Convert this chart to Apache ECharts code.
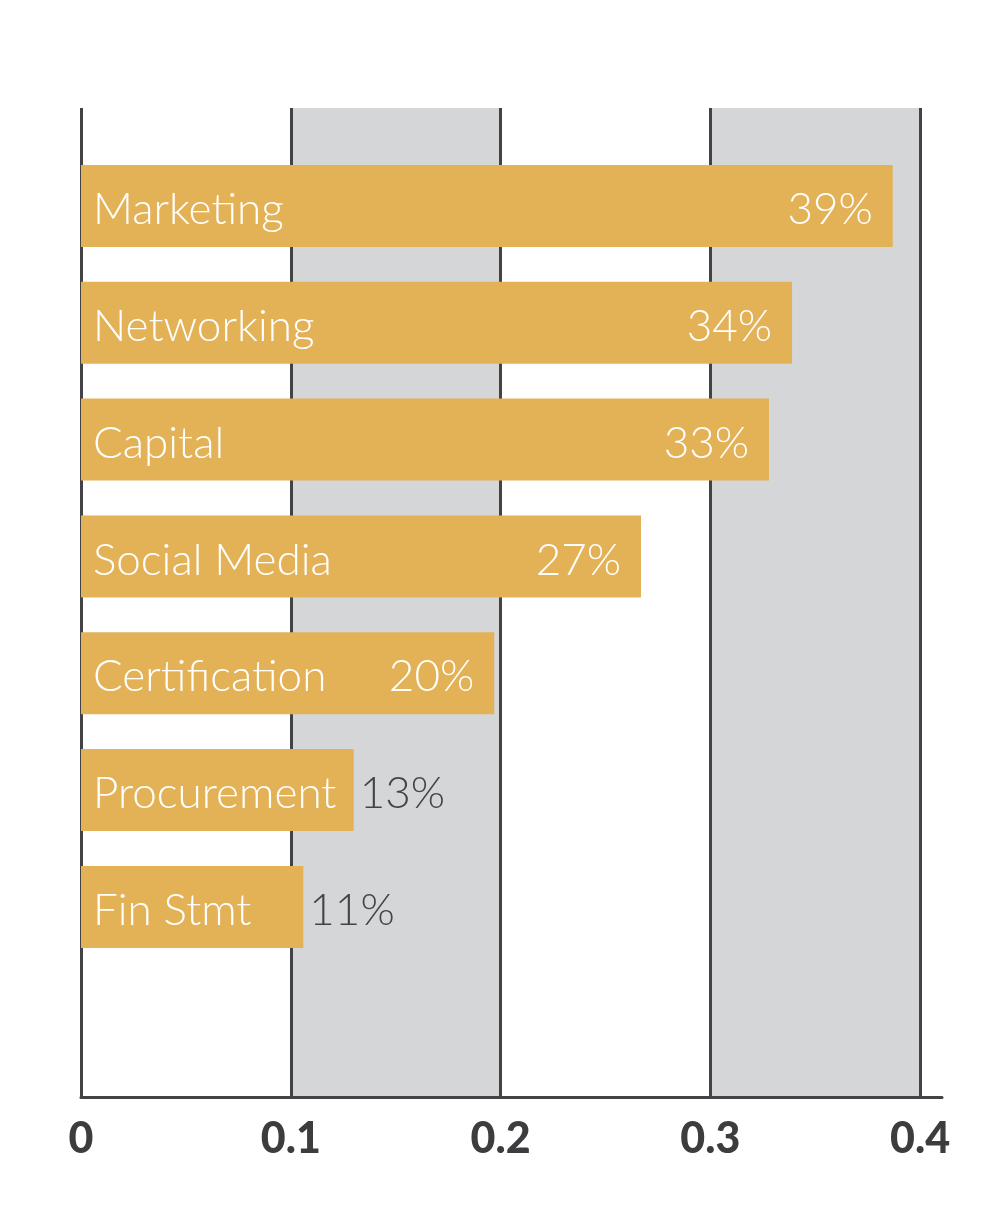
<!DOCTYPE html>
<html>
<head>
<meta charset="utf-8">
<script src="https://cdn.jsdelivr.net/npm/echarts@6/dist/echarts.min.js"></script>
<style>
html, body { margin: 0; padding: 0; background: #fff; }
#main { width: 1000px; height: 1221px; }
</style>
</head>
<body>
<div id="main"></div>
<script>
// categories, top to bottom
var categories = ['Marketing', 'Networking', 'Capital', 'Social Media', 'Certification', 'Procurement', 'Fin Stmt'];
// share of respondents
var shares = [0.387, 0.339, 0.328, 0.267, 0.197, 0.130, 0.106];
var tickLabels = ['0', '0.1', '0.2', '0.3', '0.4'];

var barColor = '#e3b257';
var lineColor = '#434345';
var bandColor = '#d4d6d8';
var labelFont = 'Lato';

var barData = shares.map(function (v) {
	var outside = v < 0.15; // short bars get their value outside
	return {
		value : v,
		label : {
			position : outside ? 'right' : 'insideRight',
			distance : outside ? 6 : 20,
			color : outside ? '#444446' : '#ffffff'
		}
	};
});

option = {
	animation : false,
	backgroundColor : '#ffffff',
	grid : [ {
		// background: bands, vertical lines, bottom axis
		left : 81,
		right : 58,
		top : 108,
		bottom : 124
	}, {
		// bars
		left : 81,
		right : 80,
		top : 147.5,
		height : 817.8
	} ],
	xAxis : [ {
		gridIndex : 0,
		type : 'value',
		min : 0,
		max : 0.4104,
		interval : 0.1,
		axisLine : {
			show : true,
			onZero : false,
			lineStyle : { color : lineColor, width : 3 }
		},
		axisTick : { show : false },
		axisLabel : {
			showMaxLabel : false,
			margin : 21,
			color : '#3d3d3f',
			fontFamily : labelFont,
			fontWeight : 900,
			fontSize : 43,
			formatter : function (v) {
				return tickLabels[Math.round(v * 10)];
			}
		},
		splitLine : {
			show : true,
			showMaxLine : false,
			lineStyle : { color : lineColor, width : 3 }
		},
		splitArea : {
			show : true,
			areaStyle : { color : [ 'rgba(255,255,255,0)', bandColor ] }
		}
	}, {
		gridIndex : 1,
		type : 'value',
		min : 0,
		max : 0.4,
		show : false
	} ],
	yAxis : [ {
		gridIndex : 0,
		type : 'value',
		show : false
	}, {
		gridIndex : 1,
		type : 'category',
		inverse : true,
		data : categories,
		z : 5,
		axisLine : { show : false },
		axisTick : { show : false },
		axisLabel : {
			inside : true,
			margin : 12,
			formatter : function (v) {
				return '{name|' + v + '}';
			},
			rich : {
				name : {
					padding : [ 8, 0, 0, 0 ],
					color : '#ffffff',
					fontFamily : labelFont,
					fontWeight : 300,
					fontSize : 44
				}
			}
		}
	} ],
	series : [ {
		type : 'bar',
		xAxisIndex : 1,
		yAxisIndex : 1,
		barWidth : 82,
		itemStyle : { color : barColor },
		label : {
			show : true,
			fontFamily : labelFont,
			fontWeight : 300,
			fontSize : 44,
			offset : [ 0, 4 ],
			formatter : function (p) {
				return Math.round(p.value * 100) + '%';
			}
		},
		data : barData
	} ]
};

var myChart = echarts.init(document.getElementById('main'));
myChart.setOption(option);
</script>
</body>
</html>
